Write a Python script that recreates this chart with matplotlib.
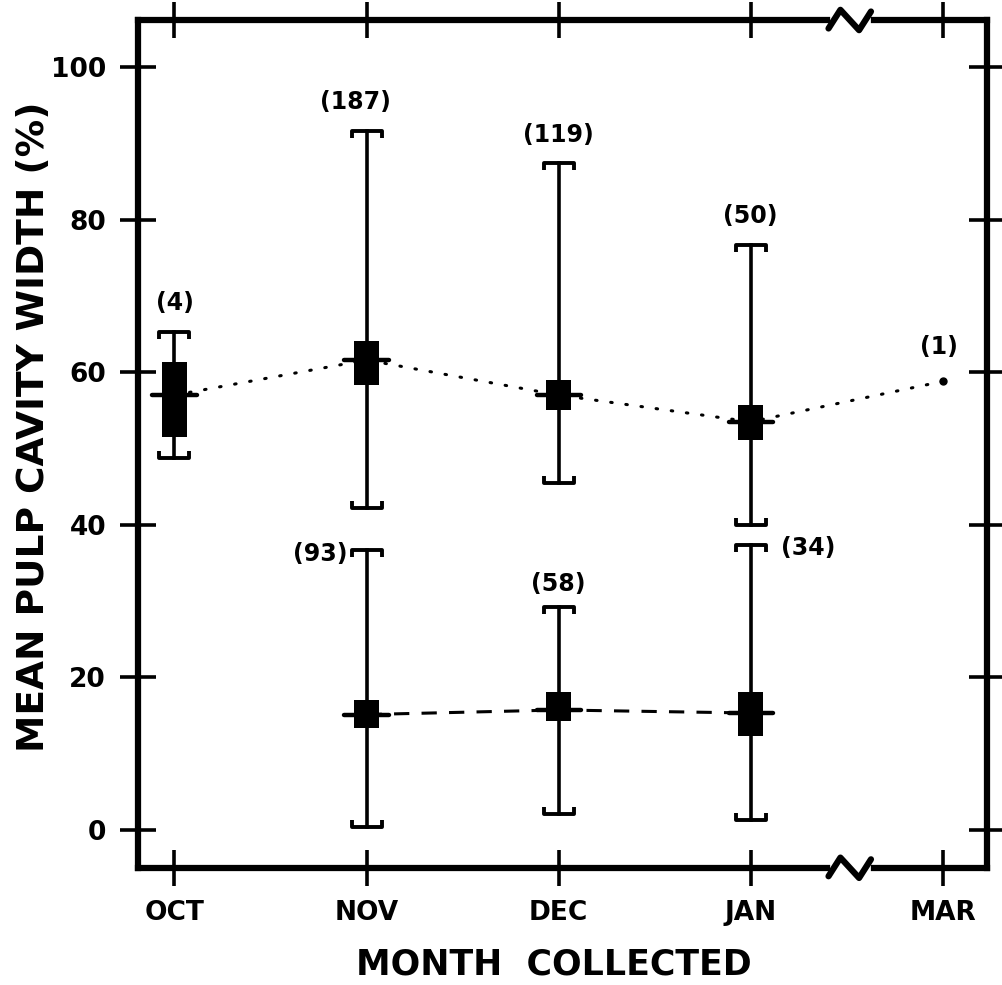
import numpy as np
import matplotlib.pyplot as plt
from matplotlib.path import Path

months = ["OCT", "NOV", "DEC", "JAN", "MAR"]
yticks = [0, 20, 40, 60, 80, 100]

# upper group (dotted)
up_x = [0, 1, 2, 3]
up_mean = [57.0, 61.6, 57.0, 53.5]
up_box_lo = [51.5, 58.3, 55.0, 51.1]
up_box_hi = [61.3, 64.1, 59.0, 55.7]
up_min = [48.8, 42.2, 45.5, 40.0]
up_max = [65.3, 91.7, 87.4, 76.7]
up_n = ["(4)", "(187)", "(119)", "(50)"]
mar_x, mar_val, mar_n = 4, 58.8, "(1)"

# lower group (dashed)
lo_x = [1, 2, 3]
lo_mean = [15.1, 15.7, 15.3]
lo_box_lo = [13.4, 14.2, 12.3]
lo_box_hi = [17.0, 18.0, 18.1]
lo_min = [0.3, 2.0, 1.3]
lo_max = [36.7, 29.2, 37.4]
lo_n = ["(93)", "(58)", "(34)"]

plt.rcParams['font.family'] = ['DejaVu Sans']
plt.rcParams['font.weight'] = 'bold'
plt.rcParams['axes.labelweight'] = 'bold'

fig = plt.figure(figsize=(10.02, 9.85), dpi=100)
ax = fig.add_axes([0.1377, 0.119, 0.8473, 0.8607])
ax.set_xlim(-0.19, 4.23)
ax.set_ylim(-5.0, 106.2)

# bracket shaped caps
cap_top = Path([(-1, -0.45), (-1, 0), (1, 0), (1, -0.45)])
cap_bot = Path([(-1, 0.45), (-1, 0), (1, 0), (1, 0.45)])

def draw_group(xs, mean, blo, bhi, mn, mx):
    for x, m, a, b, lo, hi in zip(xs, mean, blo, bhi, mn, mx):
        ax.plot([x, x], [lo, hi], color='black', lw=2.6, zorder=3)
        ax.plot([x], [hi], marker=cap_top, ms=22, mew=2.8, mfc='none',
                color='black', zorder=3)
        ax.plot([x], [lo], marker=cap_bot, ms=22, mew=2.8, mfc='none',
                color='black', zorder=3)
        ax.bar(x, b - a, bottom=a, width=0.13, color='black', zorder=4)
        ax.plot([x - 0.115, x + 0.115], [m, m], color='black', lw=3.2,
                solid_capstyle='round', zorder=4)

draw_group(up_x, up_mean, up_box_lo, up_box_hi, up_min, up_max)
draw_group(lo_x, lo_mean, lo_box_lo, lo_box_hi, lo_min, lo_max)

ax.plot(up_x + [mar_x], up_mean + [mar_val], color='black', lw=2.2,
        ls=(0, (0.5, 4.5)), dash_capstyle='round', zorder=2)
ax.plot([mar_x], [mar_val], 'o', color='black', ms=5)
ax.plot(lo_x, lo_mean, color='black', lw=2.2, ls=(0, (5, 4)), zorder=2)

tfs = 17
for x, hi, n in zip(up_x, up_max, up_n):
    ax.text(x - 0.06 if x == 1 else x, hi + 2.2, n, ha='center', va='bottom', fontsize=tfs)
ax.text(mar_x - 0.02, mar_val + 3.0, mar_n, ha='center', va='bottom', fontsize=tfs)
ax.text(lo_x[0] - 0.24, lo_max[0] - 0.5, lo_n[0], ha='center', va='center', fontsize=tfs)
ax.text(lo_x[1], lo_max[1] + 1.5, lo_n[1], ha='center', va='bottom', fontsize=tfs)
ax.text(lo_x[2] + 0.3, lo_max[2] - 0.5, lo_n[2], ha='center', va='center', fontsize=tfs)

for s in ax.spines.values():
    s.set_linewidth(4.5)
ax.set_xticks(range(len(months)))
ax.set_xticklabels(months)
ax.set_yticks(yticks)
ax.tick_params(direction='inout', length=26, width=2.6, top=True, right=True,
               labelsize=19, pad=10)

# axis break marks
for yb in (0, 1):
    bx = (3.52 + 0.19) / 4.42
    ax.plot([bx - 0.018, bx + 0.018], [yb, yb], color='white', lw=7,
            transform=ax.transAxes, clip_on=False, zorder=5)
    zx = np.array([-0.026, -0.012, 0.010, 0.024])
    zy = np.array([-0.010, 0.012, -0.012, 0.010])
    ax.plot(bx + zx, yb + zy, color='black', lw=4.5, transform=ax.transAxes,
            clip_on=False, zorder=6, solid_capstyle='round', solid_joinstyle='round')

ax.set_xlabel("MONTH  COLLECTED", fontsize=25, va='center')
ax.xaxis.set_label_coords(0.49, -0.114)
ax.set_ylabel("MEAN PULP CAVITY WIDTH (%)", fontsize=27, va='center')
ax.yaxis.set_label_coords(-0.123, 0.52)

fig.savefig("out.png", dpi=100)
